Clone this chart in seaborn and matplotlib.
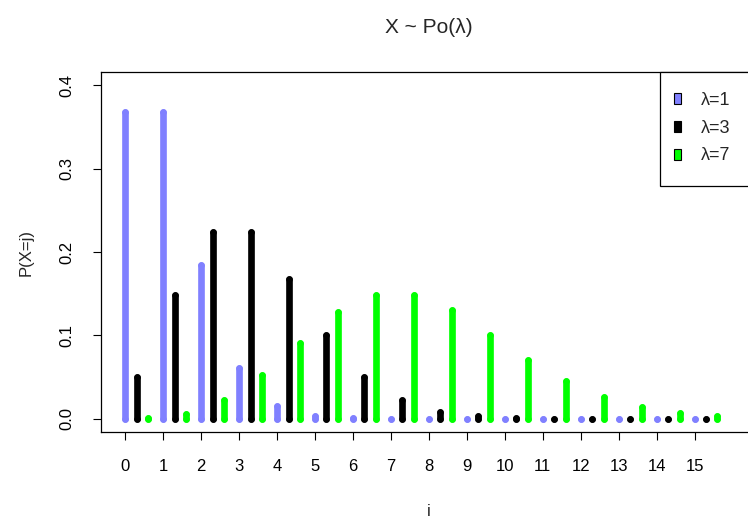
import numpy as np
import matplotlib
matplotlib.use("Agg")
import matplotlib.pyplot as plt
from matplotlib.patches import Patch, Rectangle
import seaborn as sns

# values
j = list(range(16))
p_lam1 = [0.368, 0.368, 0.184, 0.061, 0.015, 0.003, 0.0005, 0.0001, 0.0, 0.0,
          0.0, 0.0, 0.0, 0.0, 0.0, 0.0]
p_lam3 = [0.050, 0.149, 0.224, 0.224, 0.168, 0.101, 0.050, 0.022, 0.008, 0.003,
          0.001, 0.0002, 0.0, 0.0, 0.0, 0.0]
p_lam7 = [0.001, 0.006, 0.022, 0.052, 0.091, 0.128, 0.149, 0.149, 0.130, 0.101,
          0.071, 0.045, 0.026, 0.014, 0.007, 0.003]
series_labels = ["λ=1", "λ=3", "λ=7"]
series_colors = ["#8080FF", "#000000", "#00FF00"]
offsets = [0.0, 0.3, 0.6]

sns.set_theme(style="ticks")
plt.rcParams['font.family'] = ['Liberation Sans', 'DejaVu Sans']

fig = plt.figure(figsize=(7.48, 5.2), dpi=100)
ax = fig.add_axes([0.135, 0.169, 0.877, 0.6925])

lw = 4.8
for vals, col, off in zip([p_lam1, p_lam3, p_lam7], series_colors, offsets):
    xs = np.array(j) + off
    lc = ax.vlines(xs, 0, vals, colors=col, linewidth=lw)
    lc.set_capstyle("round")
    # round end caps (also visible for zero-height spikes)
    ax.scatter(xs, np.zeros(len(xs)), s=lw ** 2, color=col, linewidths=0, zorder=3)
    ax.scatter(xs, vals, s=lw ** 2, color=col, linewidths=0, zorder=3)

ax.set_xlim(-0.64, 16.64)
ax.set_ylim(-0.016, 0.416)
ax.set_xticks(j)
ax.set_xticklabels([str(v) for v in j], fontsize=12)
ax.set_yticks([0.0, 0.1, 0.2, 0.3, 0.4])
ax.set_yticklabels(["0.0", "0.1", "0.2", "0.3", "0.4"], fontsize=12,
                   rotation=90, va="center")
ax.tick_params(axis="both", direction="out", length=6, width=0.8, color="black",
               labelcolor="black")
ax.tick_params(axis="x", pad=13)
ax.tick_params(axis="y", pad=13)

for s in ax.spines.values():
    s.set_visible(True)
    s.set_color("black")
    s.set_linewidth(0.9)

ax.set_xlabel("i", fontsize=12, labelpad=22)
ax.set_ylabel("P(X=j)", fontsize=12, labelpad=19)
ax.set_title("X ~ Po(λ)", fontsize=15, pad=28)

# legend frame like R's legend("topright")
ax.add_patch(Rectangle((0.852, 0.683), 0.2, 0.317, transform=ax.transAxes,
                       facecolor="white", edgecolor="black", linewidth=0.9,
                       zorder=4, clip_on=False))
handles = [Patch(facecolor=c, edgecolor="black", linewidth=0.8) for c in series_colors]
leg = ax.legend(handles, series_labels, loc="upper left",
                bbox_to_anchor=(0.8735, 0.945), fontsize=13,
                frameon=False, borderaxespad=0, borderpad=0,
                handlelength=0.4, handleheight=0.55, handletextpad=1.1,
                labelspacing=0.6)
leg.set_zorder(5)

fig.savefig("out.png", dpi=100)
